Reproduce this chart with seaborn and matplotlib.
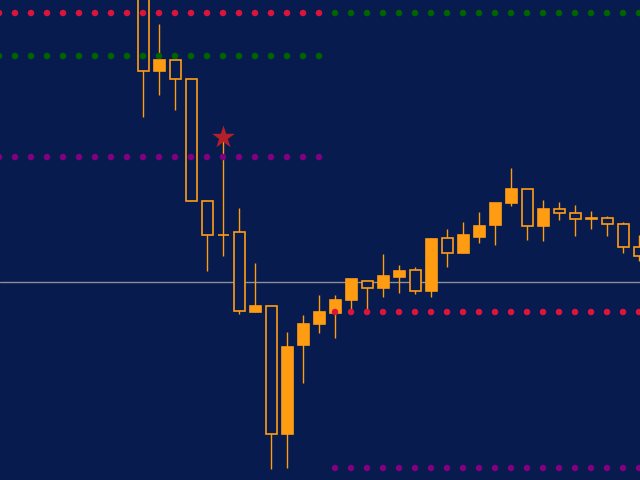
import numpy as np
import pandas as pd
import matplotlib
matplotlib.use("Agg")
import matplotlib.pyplot as plt
import seaborn as sns

# candle data (price units, bar index 0 = first visible candle)
opens  = [500, 409, 420, 401, 279, 245, 248, 168, 174, 46, 135, 156, 167, 180, 199, 192,
          203, 210, 189, 242, 227, 243, 255, 277, 291, 254, 271, 267, 261, 262, 256, 233]
highs  = [510, 456, 427, 402, 279, 340, 272, 217, 174, 148, 165, 185, 185, 201, 199, 226,
          215, 213, 242, 251, 258, 268, 277, 312, 291, 280, 278, 275, 269, 264, 258, 245]
lows   = [363, 385, 370, 279, 209, 224, 166, 168, 11, 12, 97, 147, 142, 168, 169, 183,
          187, 186, 183, 213, 227, 237, 235, 274, 240, 239, 260, 244, 251, 244, 227, 219]
closes = [409, 420, 401, 279, 245, 245, 169, 174, 46, 133, 156, 168, 180, 201, 192, 204,
          209, 189, 241, 227, 245, 254, 277, 291, 254, 271, 267, 261, 262, 256, 233, 224]

# dotted level indicators
left_bars = list(range(-9, 12))
left_red = 467
left_green = 424
left_purple = 323
right_bars = list(range(12, 32))
right_green = 467
right_red = 168
right_purple = 12

bid_level = 198
star_bar = 5
star_price = 343

bg = "#071b4e"
orange = "#ff9c12"

sns.set_theme(style="dark", rc={"axes.facecolor": bg, "figure.facecolor": bg})

fig = plt.figure(figsize=(6.4, 4.8), dpi=100)
ax = fig.add_axes([0, 0, 1, 1])

candles = pd.DataFrame({"open": opens, "high": highs, "low": lows, "close": closes})
candles["bar"] = np.arange(len(candles))
candles["bull"] = candles["close"] > candles["open"]

ax.axhline(bid_level, color="#8a8f9a", lw=1, zorder=1)

# wicks
ax.vlines(candles["bar"], candles["low"], candles["high"], color=orange, lw=1, zorder=2)

# bodies
body_w = 11 / 16
bottom = candles[["open", "close"]].min(axis=1)
height = (candles["close"] - candles["open"]).abs()
faces = [orange if b else bg for b in candles["bull"]]
ax.bar(candles["bar"], height, bottom=bottom, width=body_w, color=faces,
       edgecolor=orange, linewidth=1.2, zorder=3)

# level dots
dots = pd.concat([
    pd.DataFrame({"bar": left_bars, "price": left_red, "lvl": "a"}),
    pd.DataFrame({"bar": left_bars, "price": left_green, "lvl": "b"}),
    pd.DataFrame({"bar": left_bars, "price": left_purple, "lvl": "c"}),
    pd.DataFrame({"bar": right_bars, "price": right_green, "lvl": "b"}),
    pd.DataFrame({"bar": right_bars, "price": right_red, "lvl": "a"}),
    pd.DataFrame({"bar": right_bars, "price": right_purple, "lvl": "c"}),
])
sns.scatterplot(data=dots, x="bar", y="price", hue="lvl",
                palette={"a": "#dc143c", "b": "#006400", "c": "#800080"},
                s=22, linewidth=0, legend=False, ax=ax, zorder=4)

ax.scatter([star_bar], [star_price], marker="*", s=300, color="#b3202a",
           linewidth=0, zorder=5)

ax.set_xlim(-143 / 16, (640 - 143) / 16)
ax.set_ylim(0, 480)
ax.set_axis_off()

fig.savefig("out.png", dpi=100, facecolor=bg)
